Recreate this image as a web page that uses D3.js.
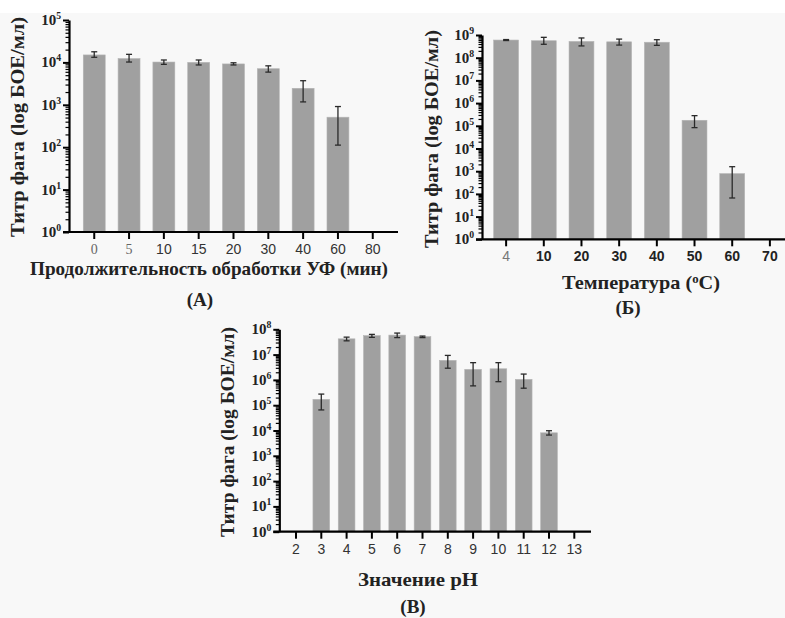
<!DOCTYPE html>
<html>
<head>
<meta charset="utf-8">
<script src="https://cdnjs.cloudflare.com/ajax/libs/d3/7.8.5/d3.min.js"></script>
<style>
body{margin:0;background:#fff;}
svg{display:block;}
.sf{font-family:"Liberation Serif","DejaVu Serif",serif;}
.ss{font-family:"Liberation Sans","DejaVu Sans",sans-serif;}
</style>
</head>
<body>
<svg id="chart" width="785" height="618"></svg>
<script>
// (A) UV exposure time, min
var uvTimes = ["0","5","10","15","20","30","40","60","80"];
var uvTiter = [15000,12300,10200,10000,9200,7100,2450,510,null];
var uvLow   = [13200,10200,9000,8700,8700,5900,1170,112,null];
var uvHigh  = [17800,15500,11400,11400,9800,8300,3700,910,null];

// (Б) temperature, °C
var tempCats  = ["4","10","20","30","40","50","60","70"];
var tempTiter = [6.0e8,5.6e8,5.2e8,5.0e8,4.8e8,1.75e5,780,null];
var tempLow   = [5.7e8,3.9e8,3.3e8,3.6e8,3.5e8,8.3e4,66,null];
var tempHigh  = [6.3e8,7.9e8,7.4e8,6.6e8,6.2e8,2.8e5,1580,null];

// (В) pH
var phCats  = ["2","3","4","5","6","7","8","9","10","11","12","13"];
var phTiter = [null,1.7e5,4.2e7,5.6e7,5.9e7,5.1e7,5.9e6,2.6e6,2.75e6,1.05e6,8.1e3,null];
var phLow   = [null,6.5e4,3.5e7,4.8e7,4.7e7,4.7e7,2.9e6,5.8e5,8.5e5,4.7e5,6.6e3,null];
var phHigh  = [null,2.75e5,4.9e7,6.3e7,7.1e7,5.4e7,9.3e6,4.8e6,4.8e6,1.7e6,9.8e3,null];

var yTitle = "Титр фага (log БОЕ/мл)";

var svg = d3.select("#chart");
svg.append("rect")
    .attr("x",0).attr("y",13)
    .attr("width",785).attr("height",605)
    .attr("fill","#f8f8f8");

var drawPanel = function(c){
    var g = svg.append("g");
    var y = d3.scaleLog().domain([1,Math.pow(10,c.maxExp)]).range([c.yBottom,c.yTop]);
    var x = d3.scaleBand().domain(c.cats).range([c.axisX,c.axisEnd])
        .paddingInner(c.padIn).paddingOuter(c.padOut);

    // bars
    var rows = c.cats.map(function(d,i){
        return {cat:d,v:c.vals[i],lo:c.lo[i],hi:c.hi[i]};
    }).filter(function(d){ return d.v!==null; });

    g.selectAll("rect.bar").data(rows).enter()
        .append("rect")
        .attr("class","bar")
        .attr("x",function(d){ return x(d.cat); })
        .attr("width",x.bandwidth())
        .attr("y",function(d){ return y(d.v); })
        .attr("height",function(d){ return c.yBottom-y(d.v); })
        .attr("fill","#a0a0a0")
        .attr("stroke","#b4b4b4")
        .attr("stroke-width",0.6);

    // error bars
    var eb = g.selectAll("g.err").data(rows).enter().append("g").attr("class","err")
        .attr("stroke","#2a2a2a").attr("stroke-width",1.3);
    eb.append("line")
        .attr("x1",function(d){ return x(d.cat)+x.bandwidth()/2; })
        .attr("x2",function(d){ return x(d.cat)+x.bandwidth()/2; })
        .attr("y1",function(d){ return y(d.hi); })
        .attr("y2",function(d){ return y(d.lo); });
    ["hi","lo"].forEach(function(k){
        eb.append("line")
            .attr("x1",function(d){ return x(d.cat)+x.bandwidth()/2-3; })
            .attr("x2",function(d){ return x(d.cat)+x.bandwidth()/2+3; })
            .attr("y1",function(d){ return y(d[k]); })
            .attr("y2",function(d){ return y(d[k]); });
    });

    // y axis, log ticks
    var tv = [];
    for(var e=0;e<c.maxExp;e++){
        for(var m=1;m<10;m++){ tv.push(m*Math.pow(10,e)); }
    }
    tv.push(Math.pow(10,c.maxExp));
    var yAxis = g.append("g")
        .attr("transform","translate("+c.axisX+",0)")
        .call(d3.axisLeft(y).tickValues(tv).tickFormat("").tickSizeOuter(0));
    yAxis.select(".domain").attr("stroke","#000").attr("stroke-width",2.2);
    yAxis.selectAll(".tick line")
        .attr("stroke","#000")
        .attr("stroke-width",function(d){ return Math.log10(d)%1===0 ? 2 : 1.2; })
        .attr("x2",function(d){ return Math.log10(d)%1===0 ? -6 : -3.5; });

    var labs = [];
    for(var k=0;k<=c.maxExp;k++){ labs.push(k); }
    var tl = g.selectAll("text.ylab").data(labs).enter()
        .append("text")
        .attr("class","ylab sf")
        .attr("x",c.axisX-8)
        .attr("y",function(d){ return y(Math.pow(10,d))+5; })
        .attr("text-anchor","end")
        .attr("font-weight","bold")
        .attr("font-size",c.tickSize)
        .attr("fill","#222");
    tl.append("tspan").text("10");
    tl.append("tspan").attr("dy",-6).attr("font-size",c.tickSize*0.65)
        .text(function(d){ return d; });

    // x axis
    var xAxis = g.append("g")
        .attr("transform","translate(0,"+c.yBottom+")")
        .call(d3.axisBottom(x).tickSize(7).tickSizeOuter(0).tickPadding(5));
    xAxis.select(".domain").attr("stroke","#000").attr("stroke-width",2.2)
        .attr("d","M"+(c.axisX-6)+",0H"+c.axisEnd);
    xAxis.selectAll(".tick line").attr("stroke","#000").attr("stroke-width",2);
    xAxis.selectAll(".tick text")
        .attr("class",function(d){ return c.xFont(d).cls; })
        .attr("font-family",null)
        .attr("font-weight",function(d){ return c.xFont(d).weight; })
        .attr("fill",function(d){ return c.xFont(d).color; })
        .attr("font-size",14);

    // titles
    g.append("text")
        .attr("class","sf")
        .attr("transform","translate("+c.yTitleX+","+c.yTitleY+") rotate(-90)")
        .attr("text-anchor","middle")
        .attr("font-weight","bold")
        .attr("font-size",19)
        .attr("fill","#222")
        .attr("textLength",c.yTitleLen)
        .attr("lengthAdjust","spacingAndGlyphs")
        .text(yTitle);
    var xt = g.append("text")
        .attr("class","sf")
        .attr("x",c.xTitleX)
        .attr("y",c.xTitleY)
        .attr("text-anchor","middle")
        .attr("font-weight","bold")
        .attr("font-size",19)
        .attr("fill","#222")
        .attr("textLength",c.xTitleLen)
        .attr("lengthAdjust","spacingAndGlyphs");
    c.xTitle.forEach(function(p){
        var s = xt.append("tspan").text(p.t);
        if(p.sup){ s.attr("dy",-6).attr("font-size",12); }
        if(p.back){ s.attr("dy",6); }
    });
    g.append("text")
        .attr("class","sf")
        .attr("x",c.tagX)
        .attr("y",c.tagY)
        .attr("text-anchor","middle")
        .attr("font-weight","bold")
        .attr("font-size",19)
        .attr("fill","#222")
        .text(c.tag);
};

drawPanel({
    cats:uvTimes, vals:uvTiter, lo:uvLow, hi:uvHigh,
    axisX:69, axisEnd:398, yTop:20, yBottom:232, maxExp:5,
    padIn:0.37, padOut:0.41, tickSize:15,
    xFont:function(d){
        return (d==="0"||d==="5") ? {cls:"sf",weight:"normal",color:"#666"} : {cls:"ss",weight:"normal",color:"#333"};
    },
    yTitleX:24, yTitleY:127, yTitleLen:220,
    xTitle:[{t:"Продолжительность обработки УФ (мин)"}],
    xTitleX:209, xTitleY:275, xTitleLen:358,
    tag:"(A)", tagX:200, tagY:306
});

drawPanel({
    cats:tempCats, vals:tempTiter, lo:tempLow, hi:tempHigh,
    axisX:482, axisEnd:794, yTop:35, yBottom:239.3, maxExp:9,
    padIn:0.34, padOut:0.31, tickSize:15,
    xFont:function(d){
        return d==="4" ? {cls:"ss",weight:"normal",color:"#777"} : {cls:"ss",weight:"bold",color:"#222"};
    },
    yTitleX:438, yTitleY:139, yTitleLen:218,
    xTitle:[{t:"Температура ("},{t:"o",sup:true},{t:"C)",back:true}],
    xTitleX:641, xTitleY:289, xTitleLen:158,
    tag:"(Б)", tagX:628, tagY:314
});

drawPanel({
    cats:phCats, vals:phTiter, lo:phLow, hi:phHigh,
    axisX:279.3, axisEnd:591, yTop:329.3, yBottom:531.7, maxExp:8,
    padIn:0.34, padOut:0.33, tickSize:15,
    xFont:function(){ return {cls:"ss",weight:"normal",color:"#333"}; },
    yTitleX:234, yTitleY:432, yTitleLen:210,
    xTitle:[{t:"Значение pH"}],
    xTitleX:418, xTitleY:586, xTitleLen:120,
    tag:"(В)", tagX:413, tagY:613
});
</script>
</body>
</html>
